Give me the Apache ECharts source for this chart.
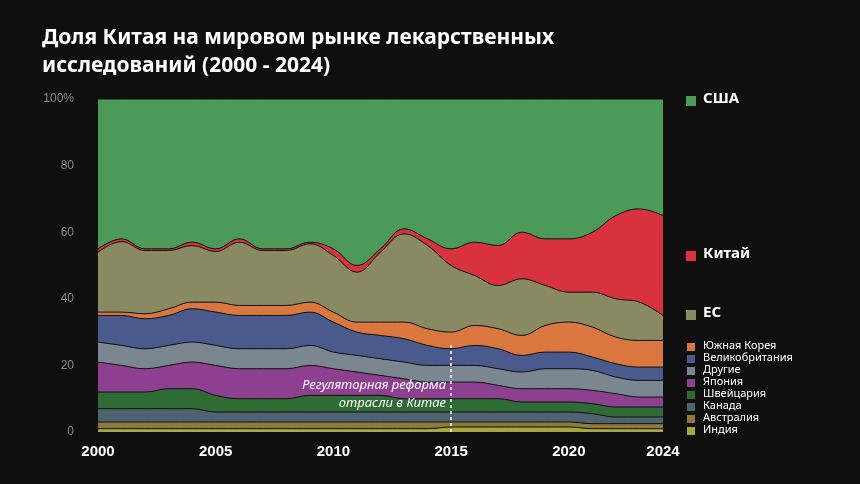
<!DOCTYPE html>
<html>
<head>
<meta charset="UTF-8">
<title>Доля Китая</title>
<script src="https://cdn.jsdelivr.net/npm/echarts@6/dist/echarts.min.js"></script>
<style>body{margin:0;background:#0f0f0f}#main{width:860px;height:484px}</style>
</head>
<body>
<div id="main"></div>
<script>
var years = [];
for (var y = 2000; y <= 2024; y++) years.push(String(y));
var yTicks = ['0', '20', '40', '60', '80', '100%'];

var india     = [1,1,1,1,1,1,1,1,1,1,1,1,1,1,1,1.5,1.5,1.5,1.5,1.5,1.5,1,1,1,1];
var australia = [2,2,2,2,2,2,2,2,2,2,2,2,2,2,2,1.5,1.5,1.5,1.5,1.5,1.5,1.5,1.5,1.5,1.5];
var canada    = [4,4,4,4,4,3,3,3,3,3,3,3,3,3,3,3,3,3,3,3,3,3,2,2,2];
var swiss     = [5,5,5,6,6,5,4,4,4,5,5,5,5,4,4,4,4,4,3,3,3,3,3,3,3];
var japan     = [9,8,7,7,8,9,9,9,9,9,8,7,6,6,5,5,5,4,4,4,4,4,4,3,3];
var other     = [6,6,6,6,6,6,6,6,6,6,5,5,5,5,5,5,5,5,5,6,6,6,5,5,5];
var uk        = [8,9,9,9,10,10,10,10,10,10,9,7,7,7,6,5,6,6,5,5,5,4,4,4,4];
var korea     = [1,1,1.5,2,2,3,3,3,3,3,3,3,4,5,5,5,6,6,6,8,9,9,8,8,8];
var eu        = [18,21.2,19,17.5,17,15.2,19,16.5,16.5,17.5,17,15,21,26.5,25,20,15,13,17,12,9,10.5,11.5,11.5,7.5];
var china     = [1,0.8,0.5,0.5,1,0.8,1,0.5,0.5,0.5,2,2,1,1.5,2,5,10,12,14,14,16,18,25,28,30];
var usa       = [45,42,45,45,43,45,42,45,45,43,45,50,45,39,42,45,43,44,40,42,42,40,35,33,35];

var layers = [
  ['Индия', india, '#a5a83a'],
  ['Австралия', australia, '#8f7a3c'],
  ['Канада', canada, '#4f6270'],
  ['Швейцария', swiss, '#2f6b34'],
  ['Япония', japan, '#8d3f90'],
  ['Другие', other, '#7a8790'],
  ['Великобритания', uk, '#4a5a8c'],
  ['Южная Корея', korea, '#d9773f'],
  ['ЕС', eu, '#8a8a62'],
  ['Китай', china, '#d9323f'],
  ['США', usa, '#4c9a58']
];

var series = layers.map(function (l) {
  return {
    name: l[0], type: 'line', stack: 'all', smooth: 0.4, symbol: 'none',
    data: l[1],
    lineStyle: { width: 1, color: '#111' },
    itemStyle: { color: l[2] },
    areaStyle: { color: l[2], opacity: 1 }
  };
});
series[0].markLine = {
  silent: true, symbol: 'none',
  lineStyle: { color: '#fff', type: [3, 3], width: 1.5 },
  label: { show: false },
  data: [[{ coord: ['2015', 0] }, { coord: ['2015', 27] }]]
};

var g = [
  { type: 'text', x: 42, y: 24, style: { text: 'Доля Китая на мировом рынке лекарственных\nисследований (2000 - 2024)', fill: '#fff', font: 'bold 21px "Noto Sans"', lineHeight: 28 } },
  { type: 'text', x: 446, y: 376, z: 100, style: { text: 'Регуляторная реформа\nотрасли в Китае', fill: '#fff', font: 'italic 13px "Noto Sans"', align: 'right', lineHeight: 18 } }
];
var big = [['США', '#4c9a58', 101], ['Китай', '#d9323f', 256], ['ЕС', '#8a8a62', 315]];
big.forEach(function (b) {
  g.push({ type: 'rect', shape: { x: 686, y: b[2] - 5, width: 10, height: 10 }, style: { fill: b[1] } });
  g.push({ type: 'text', x: 703, y: b[2] - 10, style: { text: b[0], fill: '#fff', font: 'bold 15px "Noto Sans"' } });
});
for (var i = 7; i >= 0; i--) {
  var yy = 347 + (7 - i) * 12;
  g.push({ type: 'rect', shape: { x: 687, y: yy - 4, width: 8, height: 8 }, style: { fill: layers[i][2] } });
  g.push({ type: 'text', x: 703, y: yy - 7, style: { text: layers[i][0], fill: '#fff', font: '11px "Noto Sans"' } });
}

var chart = echarts.init(document.getElementById('main'));
chart.setOption({
  backgroundColor: '#0f0f0f',
  animation: false,
  grid: { left: 98, right: 197, top: 99, bottom: 52 },
  xAxis: {
    type: 'category', data: years, boundaryGap: false,
    axisLine: { show: false }, axisTick: { show: false },
    axisLabel: {
      color: '#fff', fontSize: 15, fontWeight: 'bold', margin: 12,
      interval: function (idx, v) { return (+v) % 5 === 0 || v === '2024'; }
    }
  },
  yAxis: {
    type: 'value', min: 0, max: 100, interval: 20,
    axisLine: { show: false }, axisTick: { show: false }, splitLine: { show: false },
    axisLabel: { color: '#888', fontSize: 12, margin: 24, formatter: function (v) { return yTicks[v / 20]; } }
  },
  graphic: g,
  series: series
});
</script>
</body>
</html>
